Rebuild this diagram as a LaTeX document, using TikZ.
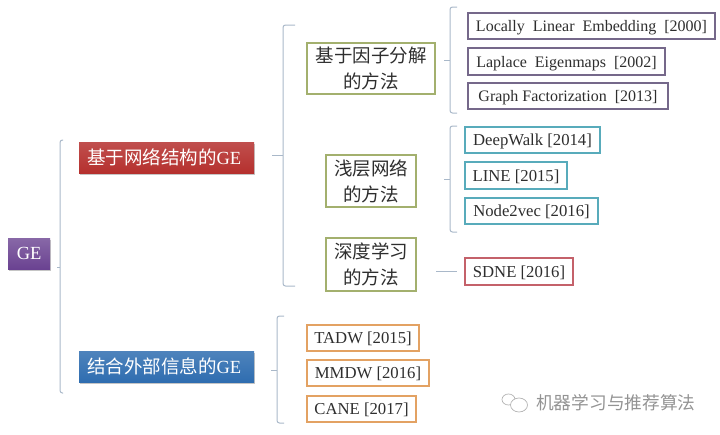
\documentclass[tikz,border=0pt]{standalone}
\usepackage{fontspec}
\setmainfont{Liberation Serif}
\newfontfamily\cjk{Noto Sans CJK SC}
\usetikzlibrary{calc,shadows}
\definecolor{dpurple}{HTML}{6A4291}
\definecolor{dred}{HTML}{B5302E}
\definecolor{dblue}{HTML}{2F6DB0}
\definecolor{dolive}{HTML}{A3B06E}
\definecolor{dgrape}{HTML}{75688A}
\definecolor{dteal}{HTML}{58ABBB}
\definecolor{drose}{HTML}{C4616A}
\definecolor{dorange}{HTML}{E3A263}
\definecolor{dbrace}{HTML}{A9B8C9}
\definecolor{dink}{HTML}{2E2E2E}
\tikzset{
  dhead/.style={anchor=north west, inner sep=0pt, text=white, font=\fontsize{18.5}{22}\selectfont,
                drop shadow={shadow xshift=0.5pt, shadow yshift=-1.5pt, fill=black!45}},
  dbase/.style={anchor=north west, inner sep=0pt, outer sep=0pt, fill=white, line width=2pt,
                text=dink, align=center},
  dmethod/.style={dbase, draw=dolive, font=\fontsize{18.5}{26}\selectfont},
  dleaf/.style={dbase, text height=13pt, text depth=2pt, font=\fontsize{16.7}{20}\selectfont},
  dfactor/.style={dleaf, draw=dgrape, font=\fontsize{16}{20}\selectfont},
  dshallow/.style={dleaf, draw=dteal},
  ddeep/.style={dleaf, draw=drose},
  dextern/.style={dleaf, draw=dorange},
  dbrk/.style={dbrace, line width=1pt, rounded corners=2.5pt},
  dtip/.style={dbrace, line width=1pt},
  dmark/.style={gray!60, line width=0.7pt},
}

\begin{document}
\begin{tikzpicture}[x=1pt,y=-1pt]
  \useasboundingbox (0,0) rectangle (720,434);

  % --- chaves ---
  \foreach \n/\x/\h/\k/\t/\b/\m in {root/60/3/3/140/393/267,net/283/12/11/25/286/155,
      fac/450/7/6/7/113/60,sha/450/7/6/126/232/179,ext/277/7/6/316/423/370}{
    \coordinate (\n top) at (\x+\h,\t);
    \coordinate (\n bot) at (\x+\h,\b);
    \coordinate (\n mid) at (\x,\m);
    \coordinate (\n tip) at (\x-\k,\m);
    \draw[dbrk] (\n top) -| (\n mid) |- (\n bot);
    \draw[dtip] (\n tip) -- (\n mid);
  }

  % --- raiz ---
  \node[dhead, top color=dpurple!80, bottom color=dpurple, minimum width=42pt, minimum height=31pt]
    (ge) at (8,238) {GE};
  \node[dhead, top color=dred!85, bottom color=dred, minimum width=175pt, minimum height=31pt]
    (struct) at (79,142) {{\cjk 基于网络结构的}GE\hspace*{5pt}};
  \node[dhead, top color=dblue!85, bottom color=dblue, minimum width=175pt, minimum height=31pt]
    (extern) at (79,351) {{\cjk 结合外部信息的}GE\hspace*{5pt}};

  % --- metodos ---
  \node[dmethod, minimum width=128pt, minimum height=51pt] (factor) at (307,43)
    {\cjk 基于因子分解\\\cjk 的方法};
  \node[dmethod, minimum width=90pt, minimum height=52pt] (shallow) at (326,155)
    {\cjk 浅层网络\\\cjk 的方法};
  \node[dmethod, minimum width=90pt, minimum height=53pt] (deep) at (326,238)
    {\cjk 深度学习\\\cjk 的方法};

  % --- fatoracao ---
  \node[dfactor, minimum width=247pt, minimum height=26pt] (lle) at (468,13)
    {Locally\ \ Linear\ \ Embedding\ \ [2000]};
  \node[dfactor, minimum width=197pt, minimum height=27pt] (lap) at (468,48)
    {Laplace\ \ Eigenmaps\ \ [2002]};
  \node[dfactor, minimum width=200pt, minimum height=26pt] (gf) at (468,83)
    {Graph Factorization\ \ [2013]};

  % --- rasos ---
  \node[dshallow, minimum width=135pt, minimum height=26pt] (dw) at (465,127) {DeepWalk [2014]};
  \node[dshallow, minimum width=102pt, minimum height=27pt] (line) at (465,162) {LINE [2015]};
  \node[dshallow, minimum width=133pt, minimum height=26pt] (n2v) at (465,198) {Node2vec [2016]};

  % --- profundos ---
  \node[ddeep, minimum width=108pt, minimum height=27pt] (sdne) at (465,258) {SDNE [2016]};
  \draw[dtip, shorten >=8pt] (sdne.west -| deep.east) ++(20,0) -- (sdne.west);

  % --- externos ---
  \node[dextern, minimum width=112pt, minimum height=26pt] (tadw) at (307,325) {TADW [2015]};
  \node[dextern, minimum width=122pt, minimum height=26pt] (mmdw) at (307,360) {MMDW [2016]};
  \node[dextern, minimum width=109pt, minimum height=26pt] (cane) at (307,396) {CANE [2017]};

  % --- marca ---
  \draw[dmark] (508.5,399.5) ellipse (6.5pt and 5.5pt);
  \draw[dmark, fill=white] (519,405) ellipse (8.5pt and 7pt);
  \node[anchor=west, inner sep=0pt, text=gray!85, font=\cjk\fontsize{17.7}{20}\selectfont]
    (mark) at (536,403) {机器学习与推荐算法};

\end{tikzpicture}
\end{document}
